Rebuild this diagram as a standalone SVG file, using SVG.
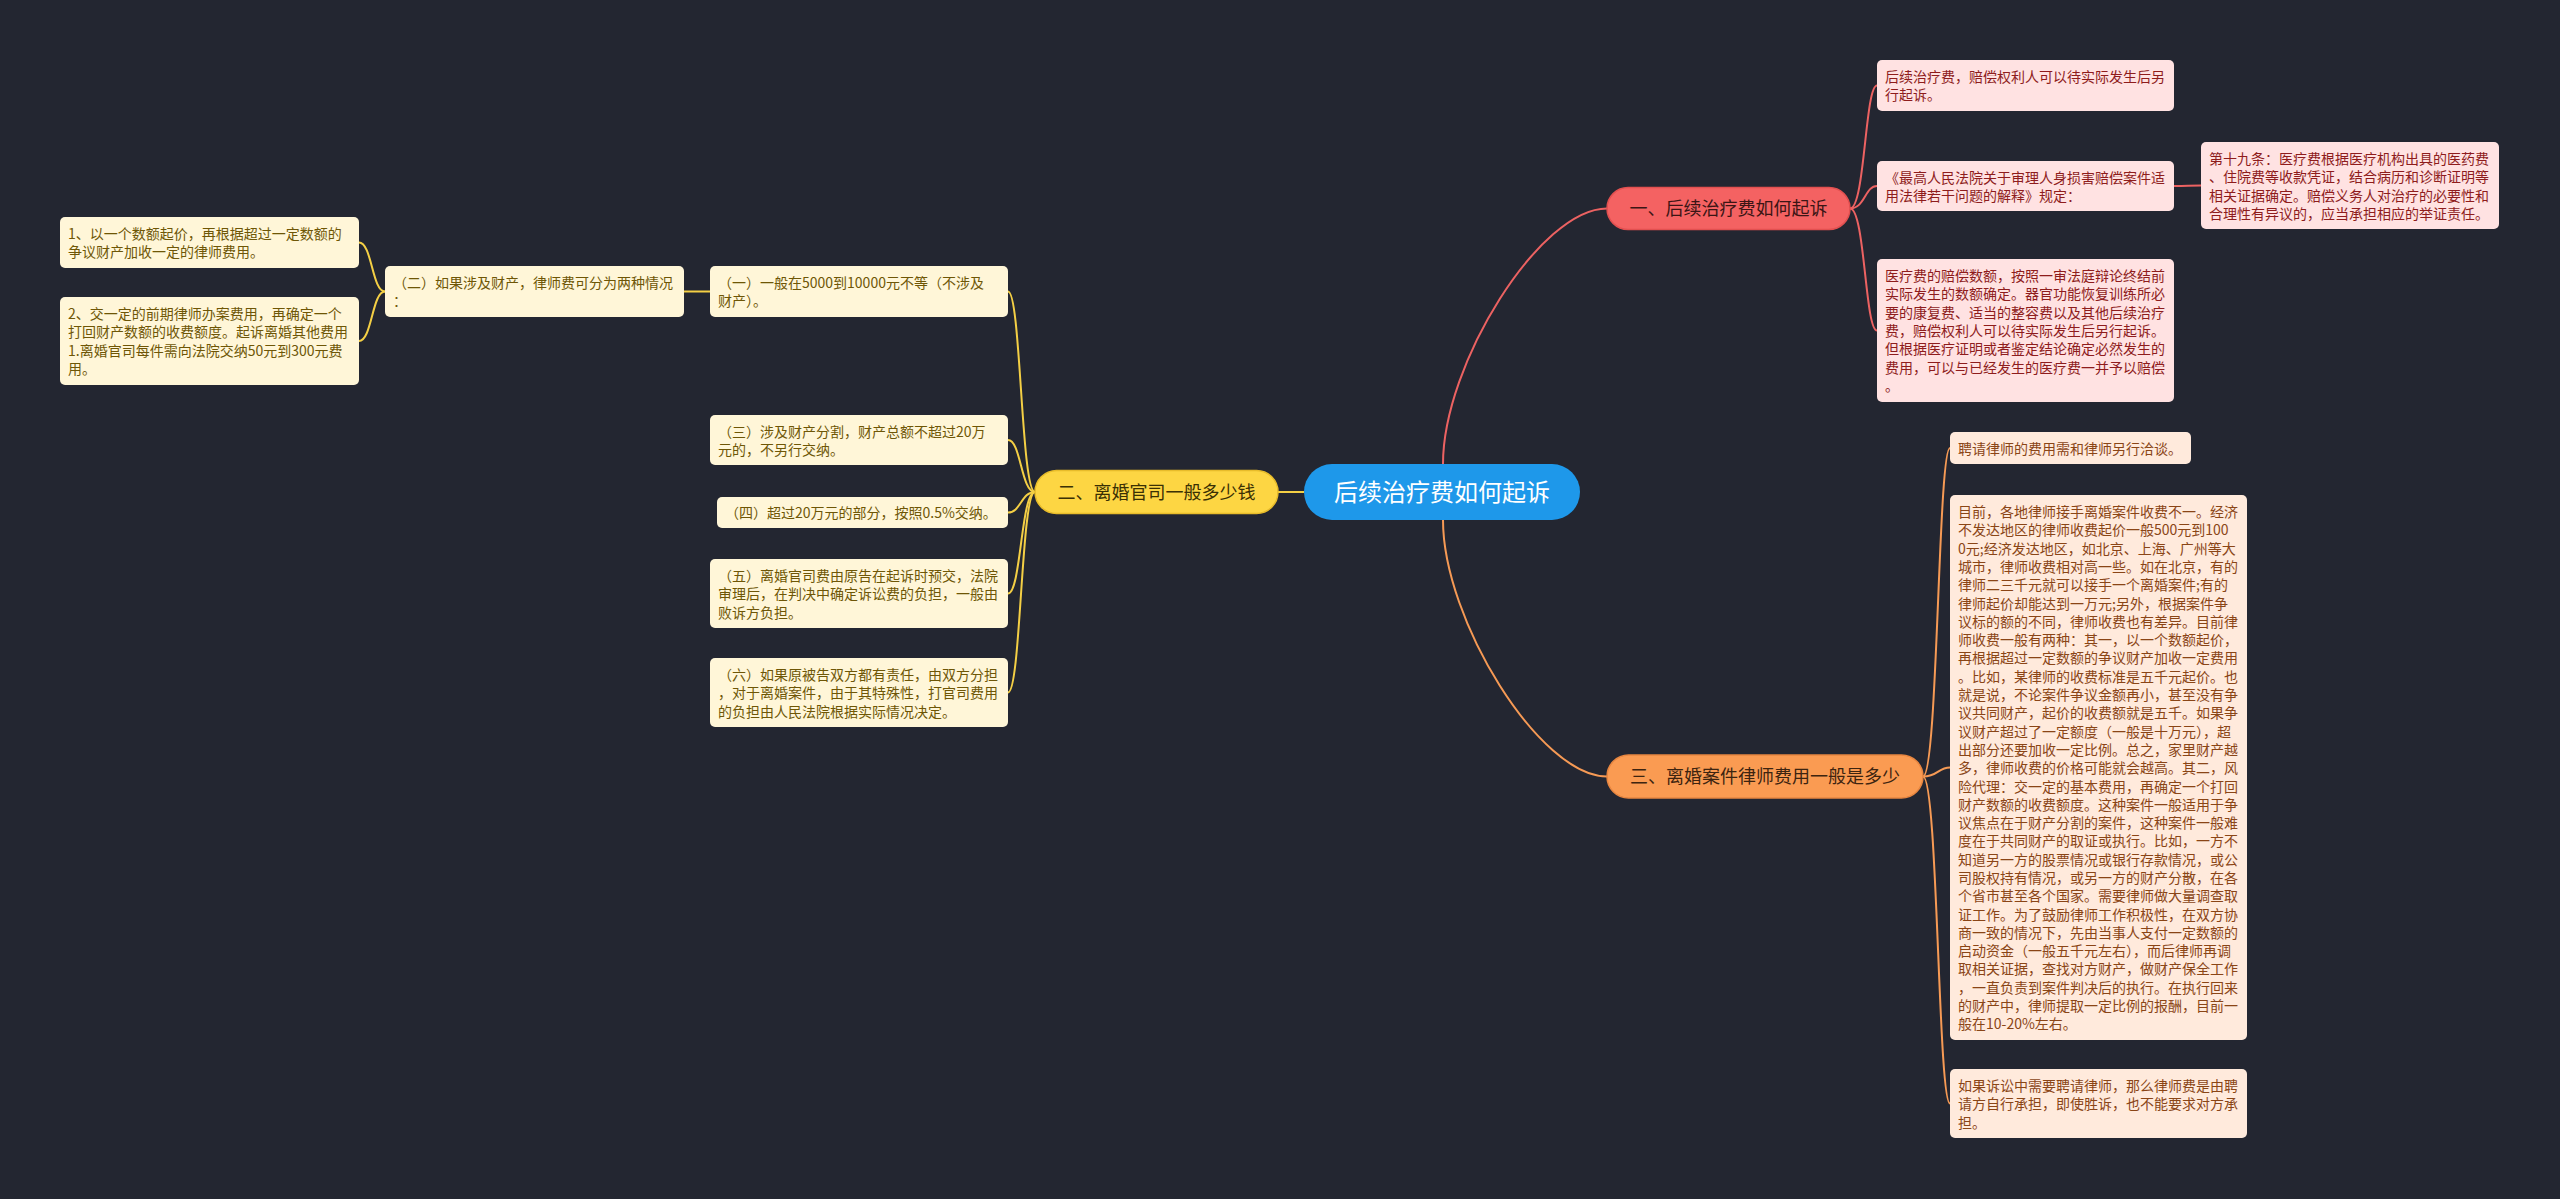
<svg xmlns="http://www.w3.org/2000/svg" width="2560" height="1199" viewBox="0 0 2560 1199">
<style>
text{font-family:"Noto Sans CJK SC","Noto Sans",sans-serif;}
.bg{fill:#232631;}
.lr{fill:none;stroke:#EC6262;stroke-width:2;}
.ly{fill:none;stroke:#F4CF45;stroke-width:2;}
.lo{fill:none;stroke:#F69A55;stroke-width:2;}
.root rect{fill:#1E98EA;}
.root text{fill:#ffffff;font-size:24px;text-anchor:middle;}
.b1 rect{fill:#F46262;stroke:#E25050;stroke-width:1.5;}
.b1 text{fill:#3B1515;font-size:18px;text-anchor:middle;}
.b2 rect{fill:#FDD643;stroke:#E8BC2A;stroke-width:1.5;}
.b2 text{fill:#3A3004;font-size:18px;text-anchor:middle;}
.b3 rect{fill:#FA9B52;stroke:#E88640;stroke-width:1.5;}
.b3 text{fill:#3D2410;font-size:18px;text-anchor:middle;}
.ny rect{fill:#FFF6D8;}
.ny text{fill:#6E5606;font-size:14px;}
.nr rect{fill:#FFE2E2;}
.nr text{fill:#8E1C1C;font-size:14px;}
.no rect{fill:#FFEADC;}
.no text{fill:#8A4516;font-size:14px;}
</style>
<rect class="bg" x="0" y="0" width="2560" height="1199"/>
<g id="connectors">
<path class="lr" d="M1443,464 C1443,364 1540,208.5 1607,208.5"/>
<path class="lr" d="M1850,208.5 C1865,208.5 1865,85.5 1877,85.5"/>
<path class="lr" d="M1850,208.5 C1865,208.5 1865,186 1877,186"/>
<path class="lr" d="M1850,208.5 C1865,208.5 1865,330.5 1877,330.5"/>
<path class="lr" d="M2174,186 C2188,186 2188,185.5 2201,185.5"/>
<path class="ly" d="M1304,492 L1278,492"/>
<path class="ly" d="M1035,492 C1021,492 1021,291.5 1008,291.5"/>
<path class="ly" d="M1035,492 C1021,492 1021,440 1008,440"/>
<path class="ly" d="M1035,492 C1021,492 1021,512.5 1008,512.5"/>
<path class="ly" d="M1035,492 C1021,492 1021,593.5 1008,593.5"/>
<path class="ly" d="M1035,492 C1021,492 1021,692.5 1008,692.5"/>
<path class="ly" d="M710,291.5 L684,291.5"/>
<path class="ly" d="M385,291.5 C372,291.5 372,242.5 359,242.5"/>
<path class="ly" d="M385,291.5 C372,291.5 372,341 359,341"/>
<path class="lo" d="M1443,520 C1443,620 1540,776.5 1607,776.5"/>
<path class="lo" d="M1923,776.5 C1938,776.5 1938,448 1950,448"/>
<path class="lo" d="M1923,776.5 C1938,776.5 1938,767.5 1950,767.5"/>
<path class="lo" d="M1923,776.5 C1938,776.5 1938,1103.5 1950,1103.5"/>
</g>
<g id="root" class="root">
<rect x="1304" y="464" width="276" height="56" rx="28"/>
<text x="1442" y="500.5">后续治疗费如何起诉</text>
</g>
<g id="branch1" class="b1">
<rect x="1607" y="187.5" width="243" height="42" rx="21"/>
<text x="1728.5" y="215">一、后续治疗费如何起诉</text>
</g>
<g id="branch2" class="b2">
<rect x="1035" y="470.5" width="243" height="43" rx="21.5"/>
<text x="1156.5" y="498.5">二、离婚官司一般多少钱</text>
</g>
<g id="branch3" class="b3">
<rect x="1607" y="755" width="316" height="43" rx="21.5"/>
<text x="1765" y="783">三、离婚案件律师费用一般是多少</text>
</g>
<g id="leaf1" class="ny">
<rect x="60" y="217" width="299" height="51" rx="5"/>
<text x="68" y="239"><tspan x="68">1、以一个数额起价，再根据超过一定数额的</tspan><tspan x="68" dy="18.3">争议财产加收一定的律师费用。</tspan></text>
</g>
<g id="leaf2" class="ny">
<rect x="60" y="297" width="299" height="88" rx="5"/>
<text x="68" y="319"><tspan x="68">2、交一定的前期律师办案费用，再确定一个</tspan><tspan x="68" dy="18.3">打回财产数额的收费额度。起诉离婚其他费用</tspan><tspan x="68" dy="18.3">1.离婚官司每件需向法院交纳50元到300元费</tspan><tspan x="68" dy="18.3">用。</tspan></text>
</g>
<g id="n2-2" class="ny">
<rect x="385" y="266" width="299" height="51" rx="5"/>
<text x="393" y="288"><tspan x="393">（二）如果涉及财产，律师费可分为两种情况</tspan><tspan x="393" dy="18.3">：</tspan></text>
</g>
<g id="n2-1" class="ny">
<rect x="710" y="266" width="298" height="51" rx="5"/>
<text x="718" y="288"><tspan x="718">（一）一般在5000到10000元不等（不涉及</tspan><tspan x="718" dy="18.3">财产）。</tspan></text>
</g>
<g id="n2-3" class="ny">
<rect x="710" y="415" width="298" height="50" rx="5"/>
<text x="718" y="437"><tspan x="718">（三）涉及财产分割，财产总额不超过20万</tspan><tspan x="718" dy="18.3">元的，不另行交纳。</tspan></text>
</g>
<g id="n2-4" class="ny">
<rect x="717" y="497" width="291" height="31" rx="5"/>
<text x="725" y="518">（四）超过20万元的部分，按照0.5%交纳。</text>
</g>
<g id="n2-5" class="ny">
<rect x="710" y="559" width="298" height="69" rx="5"/>
<text x="718" y="581"><tspan x="718">（五）离婚官司费由原告在起诉时预交，法院</tspan><tspan x="718" dy="18.3">审理后，在判决中确定诉讼费的负担，一般由</tspan><tspan x="718" dy="18.3">败诉方负担。</tspan></text>
</g>
<g id="n2-6" class="ny">
<rect x="710" y="658" width="298" height="69" rx="5"/>
<text x="718" y="680"><tspan x="718">（六）如果原被告双方都有责任，由双方分担</tspan><tspan x="718" dy="18.3">，对于离婚案件，由于其特殊性，打官司费用</tspan><tspan x="718" dy="18.3">的负担由人民法院根据实际情况决定。</tspan></text>
</g>
<g id="n1-1" class="nr">
<rect x="1877" y="60" width="297" height="51" rx="5"/>
<text x="1885" y="82"><tspan x="1885">后续治疗费，赔偿权利人可以待实际发生后另</tspan><tspan x="1885" dy="18.3">行起诉。</tspan></text>
</g>
<g id="n1-2" class="nr">
<rect x="1877" y="161" width="297" height="50" rx="5"/>
<text x="1885" y="183"><tspan x="1885">《最高人民法院关于审理人身损害赔偿案件适</tspan><tspan x="1885" dy="18.3">用法律若干问题的解释》规定：</tspan></text>
</g>
<g id="n1-2-1" class="nr">
<rect x="2201" y="142" width="298" height="87" rx="5"/>
<text x="2209" y="164"><tspan x="2209">第十九条：医疗费根据医疗机构出具的医药费</tspan><tspan x="2209" dy="18.3">、住院费等收款凭证，结合病历和诊断证明等</tspan><tspan x="2209" dy="18.3">相关证据确定。赔偿义务人对治疗的必要性和</tspan><tspan x="2209" dy="18.3">合理性有异议的，应当承担相应的举证责任。</tspan></text>
</g>
<g id="n1-3" class="nr">
<rect x="1877" y="259" width="297" height="143" rx="5"/>
<text x="1885" y="281"><tspan x="1885">医疗费的赔偿数额，按照一审法庭辩论终结前</tspan><tspan x="1885" dy="18.3">实际发生的数额确定。器官功能恢复训练所必</tspan><tspan x="1885" dy="18.3">要的康复费、适当的整容费以及其他后续治疗</tspan><tspan x="1885" dy="18.3">费，赔偿权利人可以待实际发生后另行起诉。</tspan><tspan x="1885" dy="18.3">但根据医疗证明或者鉴定结论确定必然发生的</tspan><tspan x="1885" dy="18.3">费用，可以与已经发生的医疗费一并予以赔偿</tspan><tspan x="1885" dy="18.3">。</tspan></text>
</g>
<g id="n3-1" class="no">
<rect x="1950" y="432" width="241" height="32" rx="5"/>
<text x="1958" y="454">聘请律师的费用需和律师另行洽谈。</text>
</g>
<g id="n3-2" class="no">
<rect x="1950" y="495" width="297" height="545" rx="5"/>
<text x="1958" y="517"><tspan x="1958">目前，各地律师接手离婚案件收费不一。经济</tspan><tspan x="1958" dy="18.3">不发达地区的律师收费起价一般500元到100</tspan><tspan x="1958" dy="18.3">0元;经济发达地区，如北京、上海、广州等大</tspan><tspan x="1958" dy="18.3">城市，律师收费相对高一些。如在北京，有的</tspan><tspan x="1958" dy="18.3">律师二三千元就可以接手一个离婚案件;有的</tspan><tspan x="1958" dy="18.3">律师起价却能达到一万元;另外，根据案件争</tspan><tspan x="1958" dy="18.3">议标的额的不同，律师收费也有差异。目前律</tspan><tspan x="1958" dy="18.3">师收费一般有两种：其一，以一个数额起价，</tspan><tspan x="1958" dy="18.3">再根据超过一定数额的争议财产加收一定费用</tspan><tspan x="1958" dy="18.3">。比如，某律师的收费标准是五千元起价。也</tspan><tspan x="1958" dy="18.3">就是说，不论案件争议金额再小，甚至没有争</tspan><tspan x="1958" dy="18.3">议共同财产，起价的收费额就是五千。如果争</tspan><tspan x="1958" dy="18.3">议财产超过了一定额度（一般是十万元），超</tspan><tspan x="1958" dy="18.3">出部分还要加收一定比例。总之，家里财产越</tspan><tspan x="1958" dy="18.3">多，律师收费的价格可能就会越高。其二，风</tspan><tspan x="1958" dy="18.3">险代理：交一定的基本费用，再确定一个打回</tspan><tspan x="1958" dy="18.3">财产数额的收费额度。这种案件一般适用于争</tspan><tspan x="1958" dy="18.3">议焦点在于财产分割的案件，这种案件一般难</tspan><tspan x="1958" dy="18.3">度在于共同财产的取证或执行。比如，一方不</tspan><tspan x="1958" dy="18.3">知道另一方的股票情况或银行存款情况，或公</tspan><tspan x="1958" dy="18.3">司股权持有情况，或另一方的财产分散，在各</tspan><tspan x="1958" dy="18.3">个省市甚至各个国家。需要律师做大量调查取</tspan><tspan x="1958" dy="18.3">证工作。为了鼓励律师工作积极性，在双方协</tspan><tspan x="1958" dy="18.3">商一致的情况下，先由当事人支付一定数额的</tspan><tspan x="1958" dy="18.3">启动资金（一般五千元左右），而后律师再调</tspan><tspan x="1958" dy="18.3">取相关证据，查找对方财产，做财产保全工作</tspan><tspan x="1958" dy="18.3">，一直负责到案件判决后的执行。在执行回来</tspan><tspan x="1958" dy="18.3">的财产中，律师提取一定比例的报酬，目前一</tspan><tspan x="1958" dy="18.3">般在10-20%左右。</tspan></text>
</g>
<g id="n3-3" class="no">
<rect x="1950" y="1069" width="297" height="69" rx="5"/>
<text x="1958" y="1091"><tspan x="1958">如果诉讼中需要聘请律师，那么律师费是由聘</tspan><tspan x="1958" dy="18.3">请方自行承担，即使胜诉，也不能要求对方承</tspan><tspan x="1958" dy="18.3">担。</tspan></text>
</g>
</svg>
